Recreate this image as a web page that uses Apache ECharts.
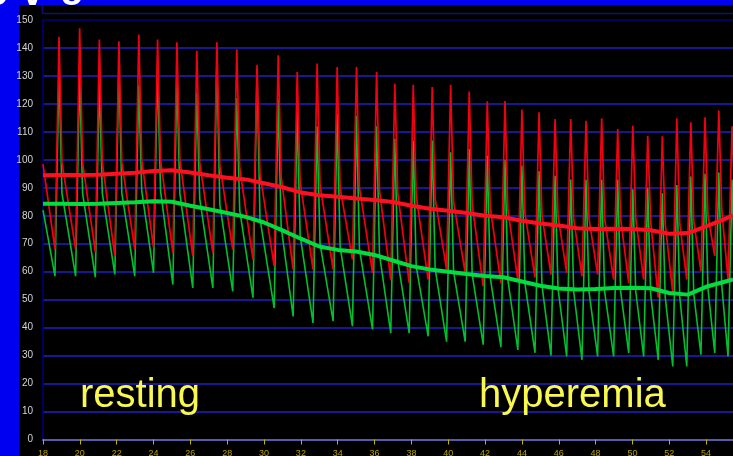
<!DOCTYPE html>
<html>
<head>
<meta charset="utf-8">
<script src="https://cdn.jsdelivr.net/npm/echarts@6/dist/echarts.min.js"></script>
<style>
  html, body { margin: 0; padding: 0; background: #0000f0; overflow: hidden; }
  #bg { position: absolute; left: 19px; top: 5px; width: 714px; height: 451px; background: #000; }
  #chart { position: absolute; left: 0; top: 0; width: 733px; height: 456px; }
</style>
</head>
<body>
<div id="bg"></div>
<div id="chart"></div>
<script>
// ---- tick labels ----
const xTickLabels = [18, 20, 22, 24, 26, 28, 30, 32, 34, 36, 38, 40, 42, 44, 46, 48, 50, 52, 54];
const yTickLabels = [0, 10, 20, 30, 40, 50, 60, 70, 80, 90, 100, 110, 120, 130, 140, 150];

// ---- per-beat readings (time of systolic peak, values) ----
const beatTime = [18.87, 19.99, 21.06, 22.12, 23.20, 24.22, 25.27, 26.35, 27.44, 28.52,
  29.62, 30.77, 31.80, 32.88, 33.97, 35.02, 36.11, 37.10, 38.10, 39.13,
  40.13, 41.14, 42.12, 43.08, 44.00, 44.93, 45.80, 46.65, 47.48, 48.33,
  49.20, 50.02, 50.83, 51.62, 52.41, 53.17, 53.94, 54.69, 55.41];
const redPeak = [144, 147, 143, 142.4, 144.8, 143, 142, 139, 142, 139.5,
  134, 137.4, 131.4, 134.4, 133.2, 133.2, 131.4, 127.2, 126.8, 126,
  126.8, 124.4, 120.9, 121, 118, 117, 114.6, 114.6, 114, 114.9,
  111, 112.2, 108.6, 108.4, 114.9, 113.4, 115.2, 117.6, 112];
const redFoot = [68, 68, 67, 65.6, 68, 68.6, 66.8, 65.6, 66.8, 68,
  64.4, 62, 60.8, 60.8, 60.8, 64.4, 59.6, 57.2, 56, 57.2,
  60.8, 59.6, 54.8, 56, 57, 58, 59, 59.6, 58.4, 59,
  57.2, 56, 57.2, 50.7, 52.5, 57.2, 60.2, 65.6, 57.2];
const redKnee = [99, 99, 99, 99, 100, 100, 100, 99, 98, 97,
  95, 94, 92, 91, 90, 90, 89, 88, 87, 86,
  85, 84, 83, 82, 81, 80, 80, 79, 79, 79,
  79, 79, 78, 77, 77, 78, 80, 82, 83];
const greenPeak = [132.6, 131, 128, 133.8, 126.6, 133, 129.6, 124, 136, 122,
  132.6, 121.8, 117, 112, 116.4, 115.8, 112, 107.5, 106.9, 106.9,
  102.7, 103.9, 101.5, 100, 98, 96, 94.3, 93, 93, 93,
  93, 89.5, 90, 88, 91, 94, 95, 95.5, 93];
const greenFoot = [58.4, 58.4, 58, 59, 58.4, 59.6, 55.4, 54.2, 54.2, 53,
  50.7, 47, 44, 41.7, 42.3, 40.5, 39.3, 38, 38, 36.9,
  35, 35, 33.9, 33, 32, 31, 30, 29.7, 28.5, 29.7,
  29.7, 30.9, 29.7, 28.5, 26.1, 26.1, 30.3, 30.9, 29.7];
const greenKnee = [88, 88, 88, 88, 89, 89, 88, 86, 84, 82,
  79, 76, 73, 70, 69, 68, 66, 64, 62, 61,
  60, 59, 58, 57, 56, 55, 54, 53, 53, 53,
  53, 53, 52, 51, 51, 52, 54, 55, 55];
const redStart = 98.5, greenStart = 82;

// ---- mean (thick) traces ----
const meanTime = [18, 19, 20, 21, 22, 23, 24, 25, 26, 27, 28, 29, 30, 31, 32, 33, 34, 35, 36,
  37, 38, 39, 40, 41, 42, 43, 44, 45, 46, 47, 48, 49, 50, 51, 52, 53, 54, 55, 55.46];
const redMean = [94.5, 94.6, 94.6, 94.7, 95.0, 95.4, 96.0, 96.3, 95.5, 94.5, 93.6, 93.0, 91.6, 90.2, 88.3,
  87.3, 86.8, 86.2, 85.6, 84.9, 83.6, 82.5, 81.8, 81.0, 80.0, 79.5, 78.2, 77.2, 76.5,
  75.5, 75.3, 75.4, 75.3, 74.8, 73.6, 73.8, 76.2, 78.8, 80.2];
const greenMean = [84.3, 84.3, 84.2, 84.3, 84.6, 84.8, 85.2, 85.0, 83.6, 82.3, 81.0, 79.6, 77.6, 74.8, 71.8,
  69.0, 67.8, 67.2, 66.0, 64.0, 62.0, 60.8, 60.0, 59.2, 58.5, 58.0, 56.5, 55.0, 54.0,
  53.6, 53.8, 54.2, 54.3, 54.1, 52.4, 51.8, 54.6, 56.4, 57.2];

// ---- build series from the readings ----
const RISE = 0.22, DROP = 0.16;
function wave(start, foot, peak, knee) {
  const pts = [[meanTime[0], start]];
  for (let i = 0; i < beatTime.length; i++) {
    pts.push([beatTime[i] - RISE, foot[i]]);
    pts.push([beatTime[i], peak[i]]);
    pts.push([beatTime[i] + DROP, knee[i]]);
  }
  return pts;
}
const redWave = wave(redStart, redFoot, redPeak, redKnee);
const greenWave = wave(greenStart, greenFoot, greenPeak, greenKnee);
const redMeanPts = meanTime.map((t, i) => [t, redMean[i]]);
const greenMeanPts = meanTime.map((t, i) => [t, greenMean[i]]);

const chart = echarts.init(document.getElementById('chart'), null, { renderer: 'canvas' });
const gridColors = yTickLabels.map((v, i) => i === yTickLabels.length - 1 ? '#000080' : '#2020c0');
chart.setOption({
  animation: false,
  backgroundColor: 'transparent',
  grid: { left: 43, right: 0, top: 20, bottom: 16.5, containLabel: false, outerBoundsMode: 'none' },
  xAxis: {
    type: 'value',
    min: xTickLabels[0],
    max: 55.46,
    interval: 2,
    axisLine: { show: true, onZero: false, lineStyle: { color: '#5a5aa8', width: 2 } },
    axisTick: { show: true, length: 5, lineStyle: { color: '#c8b000', width: 1 } },
    axisLabel: {
      color: '#b8a000', fontSize: 9, margin: 10, fontFamily: 'Liberation Sans',
      formatter: v => xTickLabels.includes(v) ? String(v) : '', showMaxLabel: false
    },
    splitLine: { show: false }
  },
  yAxis: {
    type: 'value',
    min: yTickLabels[0],
    max: yTickLabels[yTickLabels.length - 1],
    interval: 10,
    axisLine: { show: true, lineStyle: { color: '#000080', width: 1.5 } },
    axisTick: { show: false },
    axisLabel: { color: '#d4d4dc', fontSize: 10, margin: 10, fontFamily: 'Liberation Sans',
      formatter: v => yTickLabels.includes(v) ? String(v) : '' },
    splitLine: { show: true, lineStyle: { color: gridColors, width: 1.5 } }
  },
  series: [
    { type: 'line', data: greenWave, showSymbol: false, symbol: 'none', z: 3,
      lineStyle: { color: '#00c030', width: 1.6 } },
    { type: 'line', data: redWave, showSymbol: false, symbol: 'none', z: 4,
      lineStyle: { color: '#f00010', width: 1.7 } },
    { type: 'line', data: greenMeanPts, showSymbol: false, symbol: 'none', z: 5,
      lineStyle: { color: '#00dd40', width: 4 } },
    { type: 'line', data: redMeanPts, showSymbol: false, symbol: 'none', z: 6,
      lineStyle: { color: '#ff1020', width: 4 } }
  ],
  graphic: [
    { type: 'line', z: 10, shape: { x1: 42.5, y1: 5, x2: 42.5, y2: 13.5 }, style: { stroke: '#101070', lineWidth: 1.5 } },
    { type: 'line', z: 10, shape: { x1: 42.5, y1: 13.5, x2: 733, y2: 13.5 }, style: { stroke: '#101070', lineWidth: 1.5 } },
    { type: 'text', z: 20, left: -15, top: -24,
      style: { text: 'o', fill: '#ffffff', font: 'bold 38px "Liberation Sans"' } },
    { type: 'text', z: 20, left: 22, top: -24,
      style: { text: 'v', fill: '#ffffff', font: 'bold 38px "Liberation Sans"' } },
    { type: 'text', z: 20, left: 60, top: -24,
      style: { text: 'o', fill: '#ffffff', font: 'bold 38px "Liberation Sans"' } },
    { type: 'text', z: 20, left: 80, top: 376,
      style: { text: 'resting', fill: '#f8f850', font: '40px "Liberation Sans"' } },
    { type: 'text', z: 20, left: 479, top: 376,
      style: { text: 'hyperemia', fill: '#f8f850', font: '40px "Liberation Sans"' } }
  ]
});
</script>
</body>
</html>
